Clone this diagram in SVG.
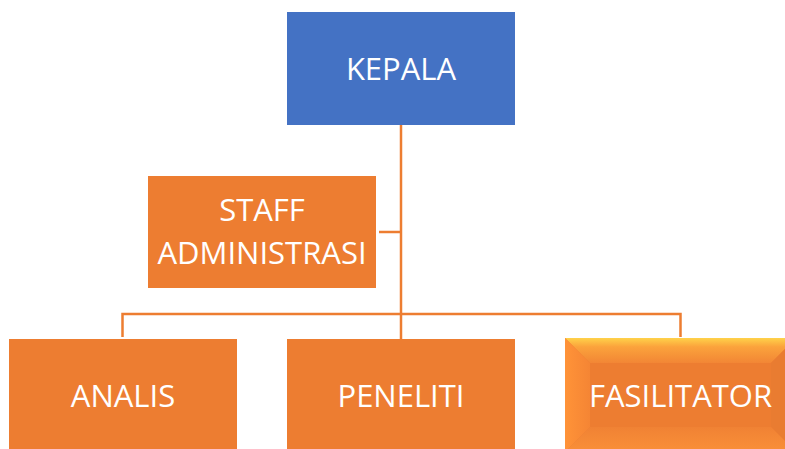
<svg xmlns="http://www.w3.org/2000/svg" width="785" height="449" viewBox="0 0 785 449">
<defs>
<style>
.lbl{font-family:"Open Sans","Noto Sans","DejaVu Sans",sans-serif;font-size:31px;fill:#ffffff;text-anchor:middle}
.org{fill:#ED7D31}
.conn{stroke:#ED7D31;stroke-width:2.5;fill:none}
</style>
<linearGradient id="gTop" x1="0" y1="0" x2="0" y2="1">
<stop offset="0" stop-color="#FFD24A"/>
<stop offset="0.35" stop-color="#FBA33C"/>
<stop offset="1" stop-color="#F28635"/>
</linearGradient>
<linearGradient id="gLeft" x1="0" y1="0" x2="1" y2="0">
<stop offset="0" stop-color="#FF9338"/>
<stop offset="1" stop-color="#F58534"/>
</linearGradient>
<linearGradient id="gBot" x1="0" y1="0" x2="0" y2="1">
<stop offset="0" stop-color="#F08234"/>
<stop offset="1" stop-color="#FA9038"/>
</linearGradient>
</defs>
<g id="connectors">
<path class="conn" d="M401 125V339"/>
<path class="conn" d="M379 232H401"/>
<path class="conn" d="M122.5 337V314H680.5V337"/>
</g>
<g id="kepala">
<rect x="287" y="12" width="228" height="113" fill="#4472C4"/>
<text class="lbl" x="401" y="80">KEPALA</text>
</g>
<g id="staff">
<rect x="148" y="176" width="228" height="112" class="org"/>
<text class="lbl" x="262" y="221">STAFF</text>
<text class="lbl" x="262" y="264">ADMINISTRASI</text>
</g>
<g id="analis">
<rect x="9" y="339" width="228" height="113" class="org"/>
<text class="lbl" x="123" y="407">ANALIS</text>
</g>
<g id="peneliti">
<rect x="287" y="339" width="228" height="113" class="org"/>
<text class="lbl" x="401" y="407">PENELITI</text>
</g>
<g id="fasilitator">
<rect x="565" y="338" width="231" height="114" class="org"/>
<polygon points="565,338 796,338 771,363 590,363" fill="url(#gTop)"/>
<polygon points="565,338 590,363 590,427 565,452" fill="url(#gLeft)"/>
<polygon points="796,338 771,363 771,427 796,452" fill="#E97C31"/>
<polygon points="565,452 590,427 771,427 796,452" fill="url(#gBot)"/>
<text class="lbl" x="680.5" y="407">FASILITATOR</text>
</g>
</svg>
